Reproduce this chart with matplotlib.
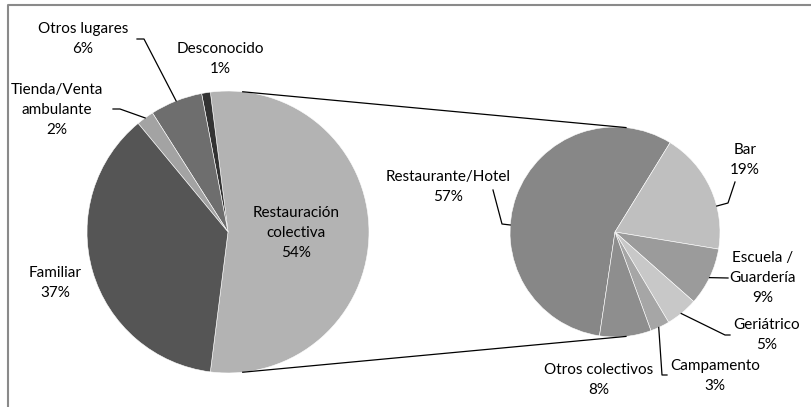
import numpy as np
import matplotlib
matplotlib.use("Agg")
import matplotlib.pyplot as plt

plt.rcParams["font.family"] = ["Lato", "DejaVu Sans"]

# main pie
main_labels = ["Restauración\ncolectiva", "Desconocido", "Otros lugares",
               "Tienda/Venta\nambulante", "Familiar"]
main_values = [54, 1, 6, 2, 37]
main_colors = ["#b3b3b3", "#333333", "#6e6e6e", "#a3a3a3", "#555555"]

# breakdown of "Restauración colectiva"
sub_labels = ["Restaurante/Hotel", "Bar", "Escuela /\nGuardería", "Geriátrico",
              "Campamento", "Otros colectivos"]
sub_values = [57, 19, 9, 5, 3, 8]
sub_colors = ["#878787", "#bfbfbf", "#9b9b9b", "#c8c8c8", "#a6a6a6", "#8e8e8e"]

W, H = 812, 407
fig = plt.figure(figsize=(W / 100, H / 100), dpi=100)
ax = fig.add_axes([0, 0, 1, 1])


def img(x, y):
    # image pixel coords -> axes coords (y up)
    return x, H - y


c1, r1 = img(228, 232), 141
c2, r2 = img(615, 232), 105

w1, _ = ax.pie(main_values, colors=main_colors, startangle=-97.2, center=c1,
               radius=r1, frame=True, wedgeprops=dict(edgecolor="white", linewidth=0.4))
w2, _ = ax.pie(sub_values, colors=sub_colors, startangle=-98.5, counterclock=False,
               center=c2, radius=r2, frame=True,
               wedgeprops=dict(edgecolor="white", linewidth=0.4))
ax.set_xlim(0, W)
ax.set_ylim(0, H)
ax.set_aspect("equal")
ax.axis("off")

# connector lines between the two pies
for a in (84, -84):
    t = np.radians(a)
    ax.plot([c1[0] + r1 * np.cos(t), c2[0] + r2 * np.cos(t)],
            [c1[1] + r1 * np.sin(t), c2[1] + r2 * np.sin(t)],
            color="black", lw=0.9)


def anchor(w, frac):
    t = np.radians(w.theta1 + frac * (w.theta2 - w.theta1))
    cx, cy = w.center
    return cx + w.r * np.cos(t), cy + w.r * np.sin(t)


# label layout: text centre, leader elbow points (image px), position in wedge
main_layout = [
    ((296, 233), None, None),
    ((220, 59), None, None),
    ((83, 39), [(137, 39), (144, 39)], 0.5),
    ((57, 110), [(113, 109), (120, 109)], 0.5),
    ((55, 283), None, None),
]
sub_layout = [
    ((448, 187), [(493, 190), (502, 224)], 0.58),
    ((745, 160), [(735, 182), (728, 203)], 0.35),
    ((763, 278), [(728, 278)], 0.49),
    ((767, 335), [(730, 335), (725, 335)], 0.47),
    ((715, 376), [(667, 375), (662, 375)], 0.43),
    ((599, 380), None, None),
]

for wedges, labels, vals, layout in ((w1, main_labels, main_values, main_layout),
                                     (w2, sub_labels, sub_values, sub_layout)):
    for w, lab, v, (pos, elbow, frac) in zip(wedges, labels, vals, layout):
        ax.text(*img(*pos), f"{lab}\n{v}%", ha="center", va="center",
                fontsize=11, linespacing=1.55, color="black")
        if elbow:
            pts = [img(*p) for p in elbow] + [anchor(w, frac)]
            xs, ys = zip(*pts)
            ax.plot(xs, ys, color="black", lw=0.9)

# chart border (top and left visible)
ax.plot([8, 8, W], [0, H - 5, H - 5], color="#8a8a8a", lw=1.5)

fig.savefig("out.png", dpi=100)
